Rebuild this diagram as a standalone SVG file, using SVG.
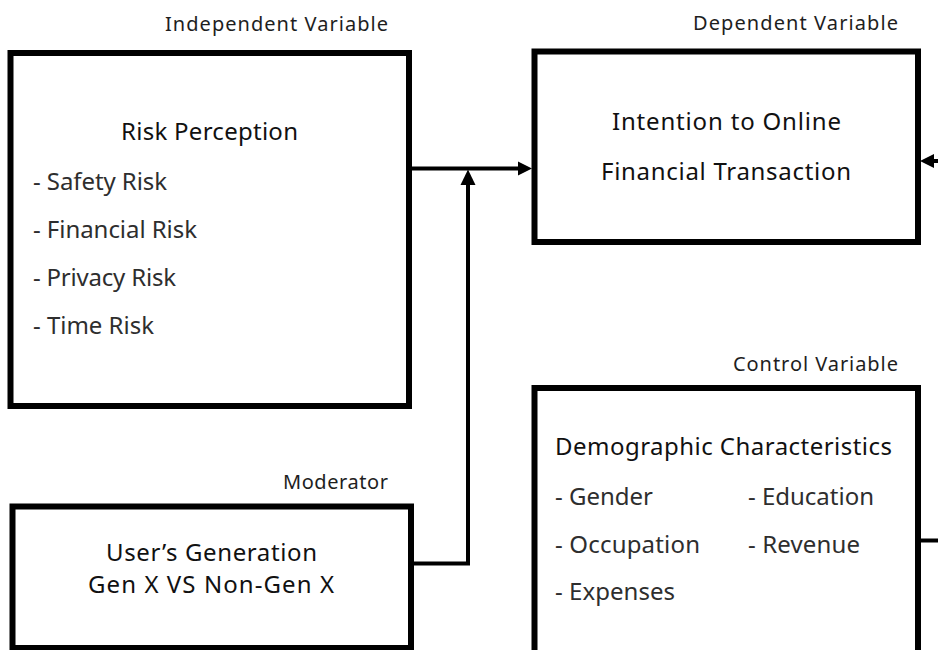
<svg xmlns="http://www.w3.org/2000/svg" width="938" height="650" viewBox="0 0 938 650">
  <style>
    .box { fill: #ffffff; stroke: #000000; stroke-width: 6; }
    .line { fill: none; stroke: #000000; stroke-width: 4; }
    .head { fill: #000000; }
    text { font-family: "Noto Sans", "Open Sans", sans-serif; }
    .lbl { font-size: 20px; fill: #1e1e1e; }
    .ttl { font-size: 24px; fill: #111111; }
    .itm { font-size: 24px; fill: #2e2e2e; }
  </style>
  <rect width="938" height="650" fill="#ffffff"/>

  <text class="lbl" x="165" y="31" textLength="223">Independent Variable</text>
  <text class="lbl" x="693" y="29.5" textLength="205">Dependent Variable</text>
  <text class="lbl" x="733" y="371" textLength="165">Control Variable</text>
  <text class="lbl" x="283" y="489" textLength="105">Moderator</text>

  <g id="risk-perception">
    <rect class="box" x="10.5" y="53" width="398.5" height="353"/>
    <text class="ttl" x="121" y="140" textLength="177">Risk Perception</text>
    <text class="itm" x="33" y="190" textLength="134">- Safety Risk</text>
    <text class="itm" x="33" y="238" textLength="164">- Financial Risk</text>
    <text class="itm" x="33" y="286" textLength="143">- Privacy Risk</text>
    <text class="itm" x="33" y="334" textLength="121">- Time Risk</text>
  </g>

  <g id="intention">
    <rect class="box" x="534.5" y="51.5" width="383.5" height="190.5"/>
    <text class="ttl" x="612" y="130" textLength="229">Intention to Online</text>
    <text class="ttl" x="601" y="180" textLength="250">Financial Transaction</text>
  </g>

  <g id="demographic">
    <rect class="box" x="534.5" y="388" width="383.5" height="280"/>
    <text class="ttl" x="555" y="455" textLength="337">Demographic Characteristics</text>
    <text class="itm" x="555" y="505" textLength="98">- Gender</text>
    <text class="itm" x="748" y="505" textLength="126">- Education</text>
    <text class="itm" x="555" y="553" textLength="145">- Occupation</text>
    <text class="itm" x="748" y="553" textLength="112">- Revenue</text>
    <text class="itm" x="555" y="600" textLength="120">- Expenses</text>
  </g>

  <g id="generation">
    <rect class="box" x="12.5" y="506.5" width="398.5" height="141.5"/>
    <text class="ttl" x="106" y="561" textLength="211">User’s Generation</text>
    <text class="ttl" x="88" y="593" textLength="246">Gen X VS Non-Gen X</text>
  </g>

  <g id="connectors">
    <line class="line" x1="409" y1="168.5" x2="520" y2="168.5"/>
    <polygon class="head" points="532,168.5 518,161.5 518,175.5"/>
    <polyline class="line" points="411,563.5 468,563.5 468,183"/>
    <polygon class="head" points="468,169.5 460.5,185 475.5,185"/>
    <line class="line" x1="932" y1="161" x2="945" y2="161"/>
    <polygon class="head" points="920,161 934,154 934,168"/>
    <line class="line" x1="918" y1="540.5" x2="945" y2="540.5"/>
  </g>
</svg>
